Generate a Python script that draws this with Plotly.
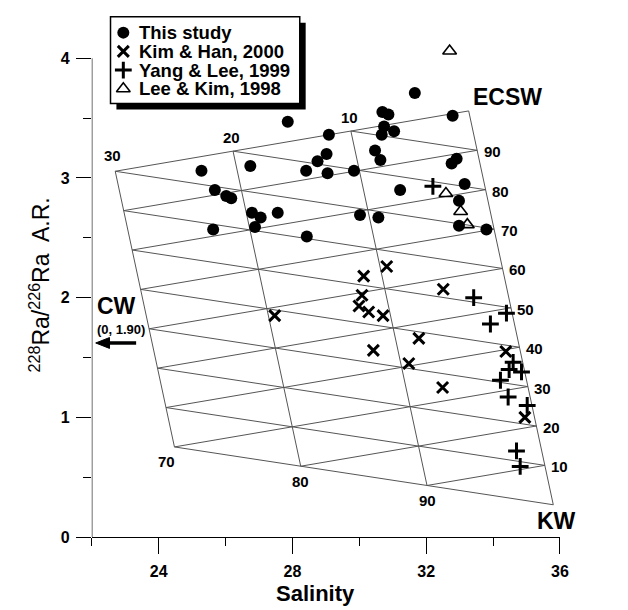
import numpy as np
import plotly.graph_objects as go

# ---------------- data ----------------
study_sal = [27.86, 29.09, 30.69, 30.87, 30.74, 31.04, 30.67, 29.02, 28.75, 26.74,
             25.28, 28.41, 29.05, 29.84, 30.47, 30.63, 31.22, 25.68, 26.02, 26.17,
             26.79, 27.05, 27.56, 26.88, 25.63, 28.43, 30.02, 30.57, 31.66, 32.79,
             32.91, 32.76, 33.15, 32.98, 32.98, 33.80]
study_ar = [3.47, 3.36, 3.55, 3.53, 3.43, 3.39, 3.36, 3.20, 3.14, 3.10,
            3.06, 3.06, 3.04, 3.06, 3.23, 3.15, 2.90, 2.90, 2.85, 2.83,
            2.71, 2.67, 2.71, 2.59, 2.57, 2.51, 2.69, 2.67, 3.71, 3.52,
            3.16, 3.12, 2.95, 2.81, 2.60, 2.57]

kim_sal = [30.82, 30.13, 30.08, 29.99, 30.28, 30.71, 32.51, 31.78, 30.42, 31.48,
           34.38, 32.49, 34.95, 27.47]
kim_ar = [2.26, 2.18, 2.02, 1.93, 1.88, 1.85, 2.07, 1.66, 1.56, 1.45,
          1.55, 1.25, 1.00, 1.85]

yang_sal = [32.20, 33.42, 34.40, 33.92, 34.60, 34.48, 34.85, 34.22, 34.45, 35.02,
            34.70, 34.81]
yang_ar = [2.93, 2.00, 1.87, 1.78, 1.46, 1.40, 1.38, 1.31, 1.17, 1.10, 0.72, 0.59]

lee_sal = [32.70, 32.59, 33.03, 33.23]
lee_ar = [4.06, 2.87, 2.72, 2.61]

# end members of the mixing diagram (salinity, ratio) as drawn
cw_end = (-1.96, 1.88)
ecsw_end = (33.27, 3.56)
kw_end = (35.80, 0.27)

series_names = ["This study", "Kim & Han, 2000", "Yang & Lee, 1999", "Lee & Kim, 1998"]
x_ticks = [24, 28, 32, 36]
y_ticks = [0, 1, 2, 3, 4]
ecsw_labels = [90, 80, 70, 60, 50, 40, 30, 20, 10]
cw_top_labels = [30, 20, 10]
kw_bottom_labels = [70, 80, 90]

FONT = "Liberation Sans, Arial, sans-serif"
C = np.array(cw_end); E = np.array(ecsw_end); K = np.array(kw_end)

W, H = 628, 610
PL, PR, PB = 85, 560, 537
PX_PER_UNIT = 121.5
Y_TOP = 4.12
PT = PB - Y_TOP * PX_PER_UNIT


def fx(xp):
    return xp / W


def fy(yp):
    return 1 - yp / H


def mix(fc, fe, fk):
    p = fc * C + fe * E + fk * K
    return float(p[0]), float(p[1])


# ---------------- mixing grid ----------------
segs = []
for c in [0.0, 0.1, 0.2, 0.3]:
    segs.append((mix(c, 1 - c, 0), mix(c, 0, 1 - c)))
for i in range(0, 10):
    e = i / 10
    a = mix(0, e, 1 - e)
    b = mix(0.3, e, 0.7 - e) if e <= 0.7 + 1e-9 else mix(1 - e, e, 0)
    segs.append((a, b))
for i in range(0, 10):
    k = i / 10
    a = mix(0, 1 - k, k)
    b = mix(0.3, 0.7 - k, k) if k <= 0.7 + 1e-9 else mix(1 - k, 0, k)
    segs.append((a, b))
gx, gy = [], []
for a, b in segs:
    gx += [a[0], b[0], None]
    gy += [a[1], b[1], None]

fig = go.Figure()
fig.add_trace(go.Scatter(x=gx, y=gy, mode="lines", line=dict(color="#555555", width=1),
                         hoverinfo="skip", showlegend=False))

styles = [
    dict(symbol="circle", size=12, color="black"),
    dict(symbol="x-thin", size=11, color="black", line=dict(color="black", width=3)),
    dict(symbol="cross-thin", size=12, color="black", line=dict(color="black", width=3)),
    dict(symbol="triangle-up-open", size=12, color="black", line=dict(color="black", width=1.6)),
]
data = [(study_sal, study_ar), (kim_sal, kim_ar), (yang_sal, yang_ar), (lee_sal, lee_ar)]
for (xs, ys), st, nm in zip(data, styles, series_names):
    fig.add_trace(go.Scatter(x=xs, y=ys, mode="markers", marker=st, name=nm,
                             cliponaxis=False, showlegend=False))

# ---------------- manual legend (full-figure pixel overlay axes) ----------------
leg_x = 117
leg_rows = [25, 44, 63, 82]
for st, row in zip(styles, leg_rows):
    fig.add_trace(go.Scatter(x=[leg_x], y=[row], mode="markers", marker=st,
                             xaxis="x2", yaxis="y2", cliponaxis=False,
                             showlegend=False, hoverinfo="skip"))

shapes = [
    # y axis line (0..4)
    dict(type="line", xref="x", yref="y", x0=22, x1=22, y0=0, y1=4,
         line=dict(color="black", width=1.2)),
    # legend shadow and box
    dict(type="rect", xref="paper", yref="paper", x0=fx(110), x1=fx(302), y0=fy(103), y1=fy(15),
         fillcolor="black", line=dict(width=0), layer="below"),
    dict(type="rect", xref="paper", yref="paper", x0=fx(104), x1=fx(296), y0=fy(97), y1=fy(9),
         fillcolor="white", line=dict(color="black", width=1.5), layer="below"),
    # CW arrow
    dict(type="line", xref="paper", yref="paper", x0=fx(100), x1=fx(130), y0=fy(340), y1=fy(340),
         line=dict(color="black", width=3.5)),
    dict(type="path", xref="paper", yref="paper",
         path="M %f,%f L %f,%f L %f,%f Z" % (fx(89), fy(340), fx(103), fy(334.5), fx(103), fy(345.5)),
         fillcolor="black", line=dict(color="black", width=1)),
]

ann = []
for nm, row in zip(series_names, leg_rows):
    ann.append(dict(xref="paper", yref="paper", x=fx(131), y=fy(row), text="<b>%s</b>" % nm,
                    showarrow=False, xanchor="left", yanchor="middle",
                    font=dict(family=FONT, size=18.5, color="black")))

lab_font = dict(family=FONT, size=15, color="black")
for v in ecsw_labels:
    x, y = mix(0, v / 100, 1 - v / 100)
    ann.append(dict(x=x, y=y, text="<b>%d</b>" % v, showarrow=False, xshift=15, yshift=-1.5,
                    xanchor="center", yanchor="middle", font=lab_font))
for v in cw_top_labels:
    x, y = mix(v / 100, 1 - v / 100, 0)
    ann.append(dict(x=x, y=y, text="<b>%d</b>" % v, showarrow=False,
                    xshift=-3 if v == 30 else -1.5, yshift=16 if v == 30 else 14,
                    xanchor="center", yanchor="middle", font=lab_font))
for v in kw_bottom_labels:
    x, y = mix(1 - v / 100, 0, v / 100)
    ann.append(dict(x=x, y=y, text="<b>%d</b>" % v, showarrow=False,
                    xshift=-8 if v == 70 else 0, yshift=-15,
                    xanchor="center", yanchor="middle", font=lab_font))

big = dict(family=FONT, size=23, color="black")
ann.append(dict(x=E[0], y=E[1], text="<b>ECSW</b>", showarrow=False, xshift=39, yshift=14,
                xanchor="center", yanchor="middle", font=big))
ann.append(dict(x=K[0], y=K[1], text="<b>KW</b>", showarrow=False, xshift=3, yshift=-16,
                xanchor="center", yanchor="middle", font=big))
ann.append(dict(xref="paper", yref="paper", x=fx(110), y=fy(302.5), text="<b>CW</b>",
                showarrow=False, xanchor="center", yanchor="middle", font=big))
ann.append(dict(xref="paper", yref="paper", x=fx(114.5), y=fy(326), text="<b>(0, 1.90)</b>",
                showarrow=False, xanchor="center", yanchor="middle",
                font=dict(family=FONT, size=13, color="black")))
ann.append(dict(xref="paper", yref="paper", x=fx(312), y=fy(594), text="<b>Salinity</b>",
                showarrow=False, xanchor="center", yanchor="middle",
                font=dict(family=FONT, size=22, color="black")))
ann.append(dict(xref="paper", yref="paper", x=fx(32), y=fy(281),
                text="<sup>228</sup>Ra/<sup>226</sup>Ra  A.R.", textangle=-90,
                showarrow=False, xanchor="center", yanchor="middle",
                font=dict(family=FONT, size=23, color="black")))

tickfont = dict(family=FONT, size=16, color="black", weight="bold")
fig.update_layout(
    width=W, height=H,
    margin=dict(l=0, r=0, t=0, b=0, pad=0),
    paper_bgcolor="white", plot_bgcolor="rgba(0,0,0,0)",
    showlegend=False,
    xaxis=dict(domain=[PL / W, PR / W], anchor="y",
               range=[22, 36], tickvals=x_ticks, ticktext=[str(v) for v in x_ticks],
               ticks="outside", ticklen=16, tickwidth=1.2, tickcolor="black",
               showline=True, linecolor="black", linewidth=1.2, showgrid=False, zeroline=False,
               minor=dict(tickvals=[22, 26, 30, 34], ticks="outside", ticklen=8, tickwidth=1.2,
                          tickcolor="black", showgrid=False),
               tickfont=tickfont, ticklabelstandoff=4, fixedrange=True),
    yaxis=dict(domain=[1 - PB / H, 1 - PT / H], anchor="x",
               range=[0, Y_TOP], tickvals=y_ticks, ticktext=[str(v) for v in y_ticks],
               ticks="outside", ticklen=15, tickwidth=1.2, tickcolor="black",
               showline=False, showgrid=False, zeroline=False,
               minor=dict(tickvals=[0.5, 1.5, 2.5, 3.5], ticks="outside", ticklen=8, tickwidth=1.2,
                          tickcolor="black", showgrid=False),
               tickfont=tickfont, ticklabelstandoff=3, fixedrange=True),
    xaxis2=dict(domain=[0, 1], range=[0, W], visible=False, anchor="y2", fixedrange=True),
    yaxis2=dict(domain=[0, 1], range=[H, 0], visible=False, anchor="x2", fixedrange=True),
    shapes=shapes,
    annotations=ann,
)

fig.write_html("out.html")
